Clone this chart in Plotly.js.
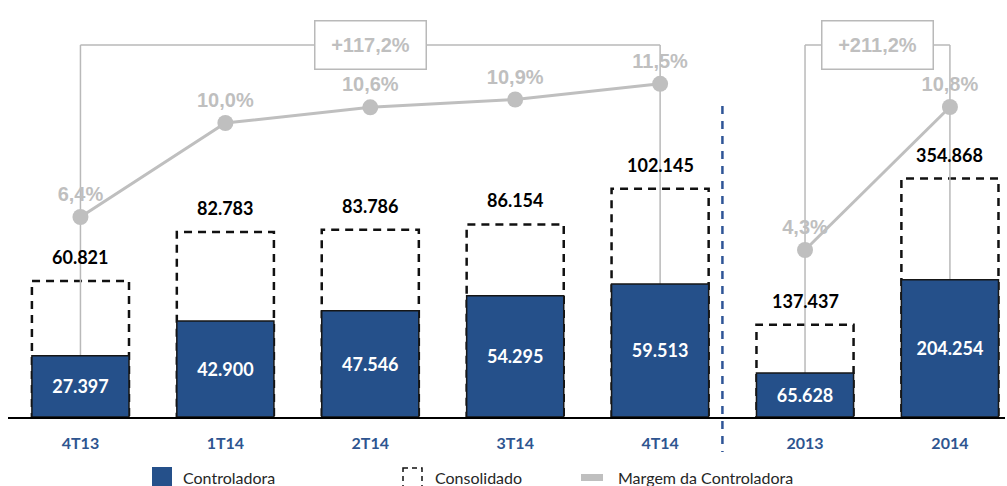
<!DOCTYPE html>
<html><head><meta charset="utf-8">
<script src="https://cdn.plot.ly/plotly-3.0.1.min.js"></script>
<style>html,body{margin:0;padding:0;background:#fff;}#chart{width:1007px;height:486px;}</style>
</head><body><div id="chart"></div>
<script>
// ---- data ----
const quarters = ['4T13', '1T14', '2T14', '3T14', '4T14'];
const years = ['2013', '2014'];
const controladoraQ = [27397, 42900, 47546, 54295, 59513];
const consolidadoQ = [60821, 82783, 83786, 86154, 102145];
const margemQ = [6.4, 10.0, 10.6, 10.9, 11.5];
const controladoraA = [65628, 204254];
const consolidadoA = [137437, 354868];
const margemA = [4.3, 10.8];
const growthLabels = ['+117,2%', '+211,2%'];
const legendLabels = ['Controladora', 'Consolidado', 'Margem da Controladora'];

// ---- geometry / style ----
const W = 1007, H = 486, L = 8, R = 2, T = 10, B = 69;
const plotW = W - L - R, plotH = H - T - B;
const px = x => (x - L) / plotW;
const py = y => (H - B - y) / plotH;

const BLUE = '#25508A', GRAY = '#BFBFBF', LINEGRAY = '#B9B9B9', CATBLUE = '#2E5590', DIVBLUE = '#2F5597';
const barWidth = 0.67;
const qRange = [0, 182100], aRange = [0, 605700], mqRange = [-1.264, 14.33], maRange = [-3.29, 15.21];
const bracketLevel = py(45);
const calibri = 'Lato, "Liberation Sans", sans-serif';
const arial = '"Liberation Sans", Arial, sans-serif';

// category positions (serial numbers on the category axis)
const qIdx = quarters.map((_, i) => i);
const yIdx = years.map((_, i) => quarters.length + i);

const barBase = {
  type: 'bar', width: barWidth,
  marker: {color: BLUE, line: {color: '#161616', width: 1.5}},
  texttemplate: '%{y:,.0f}', textposition: 'inside', insidetextanchor: 'middle',
  textfont: {family: calibri, size: 18, color: '#ffffff', weight: 'bold'},
  constraintext: 'none', hoverinfo: 'skip', name: legendLabels[0]
};
const lineBase = {
  type: 'scatter', mode: 'lines+markers+text',
  line: {color: GRAY, width: 3}, marker: {color: GRAY, size: 16},
  texttemplate: '%{y:.1f}%', textposition: 'top center',
  textfont: {family: arial, size: 20, color: GRAY, weight: 'bold'},
  cliponaxis: false, name: legendLabels[2]
};

const traces = [
  Object.assign({}, barBase, {x: quarters, y: controladoraQ, yaxis: 'y'}),
  Object.assign({}, barBase, {x: years, y: controladoraA, yaxis: 'y2'}),
  Object.assign({}, lineBase, {x: quarters, y: margemQ, yaxis: 'y3'}),
  Object.assign({}, lineBase, {x: years, y: margemA, yaxis: 'y4'})
];

// ---- shapes ----
const shapes = [];
const dashedBox = (xi, v, yref) => ({
  type: 'rect', xref: 'x', yref: yref, x0: xi - barWidth / 2, x1: xi + barWidth / 2, y0: 0, y1: v,
  line: {color: '#111111', width: 2.5, dash: '8px,6px'},
  fillcolor: 'rgba(255,255,255,0)', layer: 'below'
});
qIdx.forEach((xi, i) => shapes.push(dashedBox(xi, consolidadoQ[i], 'y')));
yIdx.forEach((xi, i) => shapes.push(dashedBox(xi, consolidadoA[i], 'y2')));

const gline = {color: LINEGRAY, width: 1.5};
const vline = (xi, v0, v1, yref) => ({type: 'line', xref: 'x', yref: yref, x0: xi, x1: xi, y0: v0, y1: v1, line: gline, layer: 'below'});
const hline = (x0, x1) => ({type: 'line', xref: 'x', yref: 'paper', x0: x0, x1: x1, y0: bracketLevel, y1: bracketLevel, line: gline, layer: 'below'});
const last = quarters.length - 1;
shapes.push(vline(qIdx[0], controladoraQ[0], bracketLevel * qRange[1], 'y'));
shapes.push(vline(qIdx[last], controladoraQ[last], bracketLevel * qRange[1], 'y'));
shapes.push(hline(qIdx[0], qIdx[last]));
shapes.push(vline(yIdx[0], controladoraA[0], bracketLevel * aRange[1], 'y2'));
shapes.push(vline(yIdx[1], controladoraA[1], bracketLevel * aRange[1], 'y2'));
shapes.push(hline(yIdx[0], yIdx[1]));

// divider between quarterly and annual groups
shapes.push({type: 'line', xref: 'x', yref: 'paper', x0: 4.43, x1: 4.43, y0: py(106), y1: py(452),
  line: {color: DIVBLUE, width: 2.5, dash: '8px,7px'}});

// manual legend icons
shapes.push({type: 'rect', xref: 'paper', yref: 'paper', x0: px(152), x1: px(172), y0: py(467), y1: py(488),
  fillcolor: BLUE, line: {width: 0}});
shapes.push({type: 'rect', xref: 'paper', yref: 'paper', x0: px(403), x1: px(422), y0: py(468), y1: py(487),
  fillcolor: 'rgba(0,0,0,0)', line: {color: '#111111', width: 1.5, dash: '5px,4px'}});
shapes.push({type: 'rect', xref: 'paper', yref: 'paper', x0: px(581), x1: px(603), y0: py(474), y1: py(481),
  fillcolor: GRAY, line: {width: 0}});

// ---- annotations ----
const annotations = [];
const totalLabel = (xi, v, yref) => ({x: xi, y: v, xref: 'x', yref: yref,
  text: v.toLocaleString('de-DE'), showarrow: false, yshift: 24, yanchor: 'middle',
  font: {family: calibri, size: 18, color: '#000000', weight: 'bold'}});
qIdx.forEach((xi, i) => annotations.push(totalLabel(xi, consolidadoQ[i], 'y')));
yIdx.forEach((xi, i) => annotations.push(totalLabel(xi, consolidadoA[i], 'y2')));

const growthBox = (xc, txt) => ({x: xc, y: bracketLevel, xref: 'x', yref: 'paper', text: txt,
  showarrow: false, xanchor: 'center', yanchor: 'middle', width: 106, height: 43, borderpad: 2,
  bgcolor: '#ffffff', bordercolor: LINEGRAY, borderwidth: 1.5,
  font: {family: arial, size: 20, color: GRAY, weight: 'bold'}});
annotations.push(growthBox((qIdx[0] + qIdx[last]) / 2, growthLabels[0]));
annotations.push(growthBox((yIdx[0] + yIdx[1]) / 2, growthLabels[1]));

const legX = [182, 434, 617];
legendLabels.forEach((t, i) => annotations.push({x: px(legX[i]), y: py(477), xref: 'paper', yref: 'paper',
  text: t, showarrow: false, xanchor: 'left', yanchor: 'middle', borderpad: 0,
  font: {family: calibri, size: 16, color: '#262626'}}));

const layout = {
  width: W, height: H, margin: {l: L, r: R, t: T, b: B, pad: 0},
  paper_bgcolor: '#ffffff', plot_bgcolor: '#ffffff', showlegend: false,
  barmode: 'overlay', separators: ',.',
  xaxis: {type: 'category', categoryorder: 'array', categoryarray: quarters.concat(years),
    range: [-0.5, 6.38], showline: true, linecolor: '#000000', linewidth: 1.5,
    showgrid: false, zeroline: false, ticks: 'outside', ticklen: 11, tickcolor: 'rgba(0,0,0,0)',
    tickfont: {family: calibri, size: 16, color: CATBLUE, weight: 'bold'}, fixedrange: true},
  yaxis: {range: qRange, visible: false, fixedrange: true},
  yaxis2: {range: aRange, overlaying: 'y', visible: false, fixedrange: true},
  yaxis3: {range: mqRange, overlaying: 'y', visible: false, fixedrange: true},
  yaxis4: {range: maRange, overlaying: 'y', visible: false, fixedrange: true},
  shapes: shapes, annotations: annotations
};

Plotly.newPlot('chart', traces, layout, {displayModeBar: false, staticPlot: true});
</script>
</body></html>
